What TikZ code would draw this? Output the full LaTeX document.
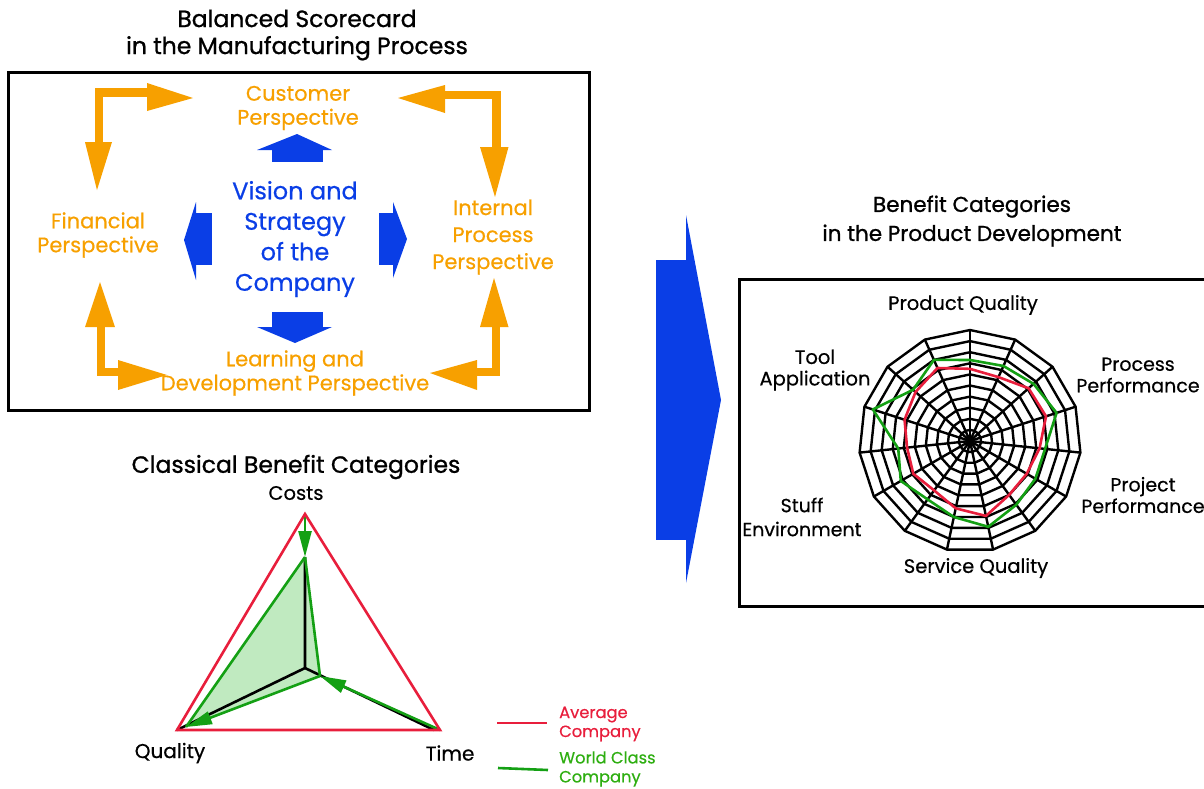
\documentclass[tikz,border=0pt]{standalone}
\usepackage{fontspec}
\setmainfont{Poppins}[FakeBold=0.5]
\newfontfamily\titlefont{Poppins}[FakeBold=1.0]
\usetikzlibrary{arrows.meta}
\definecolor{bsorange}{RGB}{247,160,0}
\definecolor{bsblue}{RGB}{10,62,230}
\definecolor{avgred}{RGB}{232,30,60}
\definecolor{wcgreen}{RGB}{20,160,20}
\definecolor{wcfill}{RGB}{192,234,192}
\tikzset{
  lbl/.style={inner sep=0pt, align=center},
  fs/.style n args={2}{font=\fontsize{#1}{#2}\selectfont},
  ts/.style n args={2}{font=\titlefont\fontsize{#1}{#2}\selectfont},
  frame/.style={draw=black, line width=3pt},
  obar/.style={draw=bsorange, line width=8.5pt},
  ohead/.style={fill=bsorange},
  bfill/.style={fill=bsblue},
  web/.style={draw=black, line width=2.4pt, line join=miter},
  redline/.style={draw=avgred, line width=2.6pt},
  greenline/.style={draw=wcgreen, line width=2.6pt},
  garrow/.style={draw=wcgreen, line width=2.6pt, -{Triangle[length=26pt,width=13pt]}},
}
\begin{document}
\begin{tikzpicture}[x=1pt,y=-1pt]
\useasboundingbox (0,0) rectangle (1204,788);

% ---------- Balanced Scorecard ----------
\node[lbl, ts={23.5}{27}] (bstitle) at (297,35) {Balanced Scorecard\\in the Manufacturing Process};
\draw[frame] (8,72) rectangle (589,410);

\node[lbl, fs={21}{24}, text=bsorange] (cust) at (298,108) {Customer\\Perspective};
\node[lbl, fs={21}{24}, text=bsorange] (fin) at (98,235) {Financial\\Perspective};
\node[lbl, fs={21}{27}, text=bsorange] (intp) at (493,237) {Internal\\Process\\Perspective};
\node[lbl, fs={21}{24}, text=bsorange] (learn) at (295,373) {Learning and\\Development Perspective};
\node[lbl, fs={24}{30.5}, text=bsblue] (vision) at (295,239) {Vision and\\Strategy\\of the\\Company};

% orange L arrows
\draw[obar] (147,92.5) -- (99,92.5) -- (99,143);
\fill[ohead] (147,83) -- (193,98) -- (147,111) -- cycle;
\fill[ohead] (85,142) -- (97,190) -- (112,142) -- cycle;

\draw[obar] (445,95) -- (496.5,95) -- (496.5,147);
\fill[ohead] (445,85) -- (398,98) -- (445,113) -- cycle;
\fill[ohead] (480,147) -- (495,197) -- (508.5,147) -- cycle;

\draw[obar] (496,326) -- (496,372) -- (476,372);
\fill[ohead] (480,327) -- (494,278) -- (508.5,327) -- cycle;
\fill[ohead] (477,360) -- (430,373) -- (477,390) -- cycle;

\draw[obar] (101,326) -- (101,372) -- (119,372);
\fill[ohead] (85,327) -- (100,282) -- (115,327) -- cycle;
\fill[ohead] (118,360) -- (167,375) -- (118,390) -- cycle;

% blue arrows around the centre
\fill[bfill] (272,149) rectangle (323,162);
\fill[bfill] (257,150) -- (297,134) -- (332,150) -- cycle;
\fill[bfill] (272,312) rectangle (323,328);
\fill[bfill] (257,327) -- (295,343) -- (332,327) -- cycle;
\fill[bfill] (195,213) rectangle (212,265);
\fill[bfill] (196,202) -- (184,240) -- (196,280) -- cycle;
\fill[bfill] (379,213) rectangle (394,265);
\fill[bfill] (393,202) -- (407,239) -- (393,278) -- cycle;

% ---------- big blue arrow ----------
\fill[bfill] (656,260) rectangle (687,540);
\fill[bfill] (686,215) -- (721,400) -- (686,583) -- cycle;

% ---------- Classical benefit categories ----------
\node[lbl, ts={23.5}{24}] (cbtitle) at (296,467) {Classical Benefit Categories};
\node[lbl, fs={19.5}{22}] (costs) at (296,493) {Costs};
\node[lbl, fs={20}{22}] (quality) at (170,753) {Quality};
\node[lbl, fs={20}{22}] (time) at (450,753) {Time};

\coordinate (C) at (305,514);
\coordinate (Q) at (177,730);
\coordinate (T) at (440,730);
\coordinate (O) at (305,668);
\coordinate (Cg) at (305,557);
\coordinate (Tg) at (320,676);
\coordinate (Qg) at (186,727);

\fill[wcfill] (Cg) -- (Tg) -- (Qg) -- cycle;
\draw[draw=black, line width=2.6pt] (Cg) -- (O) -- (Q);
\draw[draw=black, line width=2.6pt] (O) -- (434,730);
\draw[greenline] (Cg) -- (Tg);
\draw[greenline] (Cg) -- (Qg);
\draw[garrow] (C) -- (Cg);
\draw[garrow] (T) -- (Tg);
\draw[garrow] (Tg) -- (Qg);
\draw[redline, line join=miter] (C) -- (T) -- (Q) -- cycle;

% legend
\coordinate (lr1) at (497,723);
\coordinate (lr2) at (547,723);
\coordinate (lg1) at (498,768);
\coordinate (lg2) at (548,770);
\draw[redline] (lr1) -- (lr2);
\draw[greenline] (lg1) -- (lg2);
\node[lbl, fs={16.3}{19}, text=avgred, anchor=west, align=left] (lavg) at (559,724) {Average\\Company};
\node[lbl, fs={16.3}{19}, text=wcgreen!85!lime, anchor=west, align=left] (lwc) at (559,769) {World Class\\Company};

% ---------- Benefit categories in product development ----------
\node[lbl, ts={21.5}{29}] (pdtitle) at (972,221) {Benefit Categories\\in the Product Development};
\draw[frame] (739,279) rectangle (1210,606);

% web grid: 15 spokes, 10 rings
\def\cx{970}\def\cy{441}\def\R{111}
\foreach \k in {1,...,10}{
  \draw[web] ({\cx+\k*\R/10*cos(90)},{\cy-\k*\R/10*sin(90)})
    \foreach \i in {1,...,14}{ -- ({\cx+\k*\R/10*cos(90-24*\i)},{\cy-\k*\R/10*sin(90-24*\i)}) } -- cycle;
}
\foreach \i in {0,...,14}{
  \draw[web] (\cx,\cy) -- ({\cx+\R*cos(90-24*\i)},{\cy-\R*sin(90-24*\i)});
}
% data
\foreach \v [count=\i from 0] in {0.65,0.63,0.71,0.72,0.63,0.59,0.60,0.69,0.62,0.55,0.59,0.57,0.62,0.66,0.72}{
  \coordinate (r\i) at ({\cx+\v*\R*cos(90-24*\i)},{\cy-\v*\R*sin(90-24*\i)});
}
\foreach \v [count=\i from 0] in {0.73,0.74,0.77,0.82,0.68,0.68,0.71,0.79,0.70,0.65,0.72,0.65,0.92,0.69,0.80}{
  \coordinate (g\i) at ({\cx+\v*\R*cos(90-24*\i)},{\cy-\v*\R*sin(90-24*\i)});
}
\draw[redline, line join=round] (r0) -- (r1) -- (r2) -- (r3) -- (r4) -- (r5) -- (r6) -- (r7) -- (r8) -- (r9) -- (r10) -- (r11) -- (r12) -- (r13) -- (r14) -- cycle;
\draw[greenline, line join=round] (g0) -- (g1) -- (g2) -- (g3) -- (g4) -- (g5) -- (g6) -- (g7) -- (g8) -- (g9) -- (g10) -- (g11) -- (g12) -- (g13) -- (g14) -- cycle;

\node[lbl, fs={19.5}{21.5}] (pq) at (963,305) {Product Quality};
\node[lbl, fs={19.5}{21.5}] (ta) at (815,370) {Tool\\Application};
\node[lbl, fs={19}{21.5}] (pp) at (1138,375) {Process\\Performance};
\node[lbl, fs={19}{21.5}] (prp) at (1143,495) {Project\\Performance};
\node[lbl, fs={19}{24}] (se) at (802,517) {Stuff\\Environment};
\node[lbl, fs={19.5}{21.5}] (sq) at (976,568) {Service Quality};
\end{tikzpicture}
\end{document}
